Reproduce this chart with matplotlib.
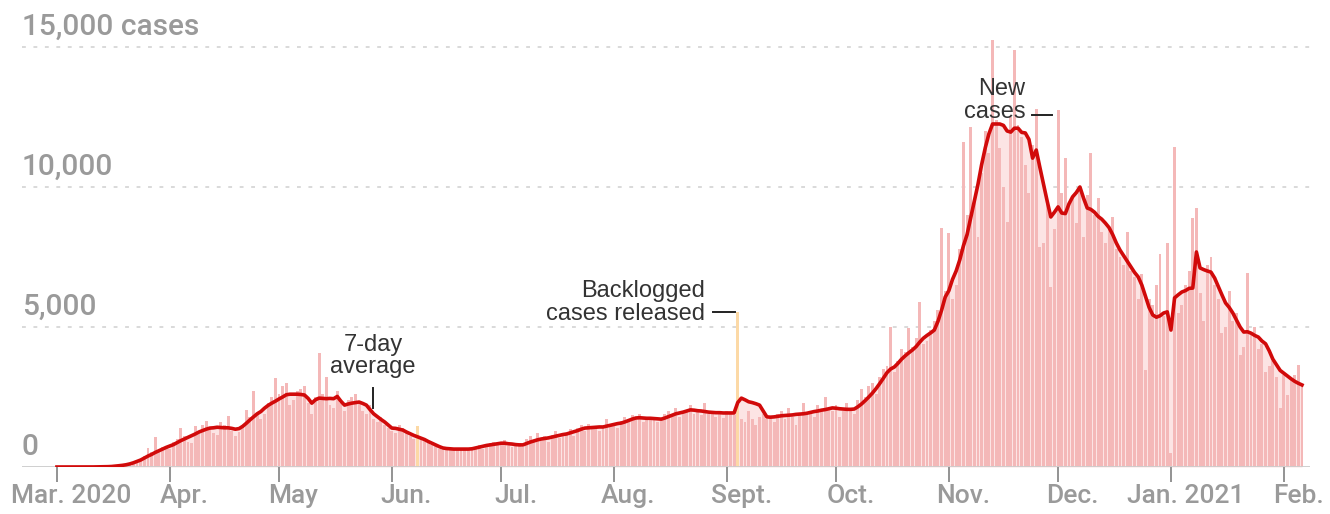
import matplotlib.pyplot as plt
import numpy as np

plt.rcParams['font.family'] = ['Liberation Sans', 'DejaVu Sans']

start = np.datetime64('2020-03-01')
days = np.arange(start, np.datetime64('2021-02-07'), dtype='datetime64[D]')

# daily new cases, read month by month
cases = (
    [0, 0, 0, 0, 0, 0, 0, 0, 0, 0, 5, 3, 10, 15, 20, 25, 40, 60, 70, 100,
     130, 170, 230, 260, 380, 680, 520, 1070, 560, 700, 760]
    + [640, 900, 1000, 1400, 1100, 900, 850, 1450, 1300, 1500, 1640, 1350, 1200, 1150, 1600,
       1500, 1820, 1300, 1100, 1250, 1500, 2040, 1800, 2710, 1900, 1700, 1900, 2300, 2500, 3180]
    + [2600, 2900, 3000, 2200, 2400, 2700, 2800, 2900, 2300, 1900, 2500, 4070, 2600, 3210, 2200,
       2100, 2700, 2300, 2000, 2400, 2500, 2600, 2300, 2000, 1900, 2200, 1700, 1600, 1800, 1500, 1400]
    + [1300, 1200, 1500, 1400, 1300, 1100, 1000, 1450, 1000, 950, 900, 800, 750, 650, 600,
       700, 650, 620, 600, 680, 600, 590, 700, 720, 800, 650, 780, 850, 900, 800]
    + [900, 950, 750, 700, 800, 850, 700, 1000, 1100, 950, 1200, 1000, 1100, 900, 1150,
       1300, 1050, 1200, 1150, 1350, 1100, 1400, 1500, 1300, 1550, 1400, 1350, 1300, 1450, 1700, 1500]
    + [1550, 1400, 1650, 1800, 1700, 1850, 1800, 1900, 1600, 1800, 1700, 1800, 1600, 1700, 1900,
       2000, 1850, 2100, 1800, 2000, 2050, 2200, 1900, 2000, 1850, 2300, 1900, 1950, 1800, 2000, 1750]
    + [2000, 1900, 1850, 5536, 1700, 1600, 2000, 1700, 1500, 1800, 1900, 1700, 1800, 1600, 1900,
       2000, 1700, 2100, 1800, 1500, 1900, 2300, 1900, 2000, 1800, 2200, 2000, 2500, 2100, 2000]
    + [2200, 1800, 2000, 2300, 2100, 1900, 2400, 2800, 2500, 2900, 3000, 2600, 3200, 3500, 3600,
       5000, 3400, 3800, 4200, 4100, 4960, 4300, 4600, 5900, 4400, 4500, 4900, 5200, 5600, 8530, 6300]
    + [8350, 6000, 6500, 7800, 11600, 9000, 12140, 9500, 8200, 10500, 12000, 11200, 15250, 12400, 11400,
       10000, 8750, 12500, 14900, 12200, 11800, 10800, 9800, 11500, 12800, 7860, 8000, 9500, 6430, 8500]
    + [12750, 9800, 11030, 9300, 9600, 8700, 9900, 8200, 9700, 11210, 9000, 9600, 8400, 8000, 8500,
       8930, 7800, 7500, 7200, 8400, 7000, 6800, 6000, 6900, 3460, 6000, 5800, 6500, 7600, 5400, 8000]
    + [500, 11430, 5500, 5800, 6500, 7000, 8890, 9250, 6200, 5200, 7200, 7500, 6500, 6000, 4800,
       5000, 6300, 5200, 5500, 4000, 4300, 6930, 4700, 5000, 4200, 4400, 3400, 3600, 3800, 3200, 2100]
    + [3300, 2570, 3100, 3300, 3640, 2900]
)

# 7-day average line
avg = (
    [0, 0, 0, 0, 0, 0, 0, 0, 0, 0, 2, 4, 6, 8, 12, 18, 30, 45, 60, 80,
     110, 150, 200, 250, 320, 390, 450, 520, 580, 640, 700]
    + [750, 800, 870, 940, 1000, 1060, 1120, 1180, 1250, 1300, 1350, 1390, 1400, 1420, 1410,
       1400, 1400, 1380, 1350, 1370, 1450, 1560, 1680, 1790, 1900, 1980, 2100, 2200, 2280, 2350]
    + [2430, 2500, 2580, 2600, 2600, 2600, 2590, 2570, 2450, 2280, 2400, 2460, 2450, 2440, 2450,
       2440, 2520, 2350, 2210, 2250, 2280, 2300, 2320, 2270, 2210, 2050, 1900, 1800, 1700, 1610, 1500]
    + [1390, 1380, 1350, 1320, 1250, 1190, 1130, 1080, 1030, 980, 910, 850, 790, 730, 680,
       660, 650, 640, 640, 640, 640, 640, 650, 680, 710, 740, 770, 790, 810, 830]
    + [850, 850, 830, 820, 800, 790, 790, 840, 890, 930, 970, 1000, 1020, 1040, 1070,
       1100, 1130, 1160, 1180, 1220, 1260, 1300, 1350, 1390, 1400, 1410, 1420, 1430, 1430, 1460, 1490]
    + [1520, 1550, 1570, 1610, 1660, 1710, 1750, 1760, 1750, 1740, 1740, 1730, 1720, 1710, 1750,
       1800, 1850, 1900, 1930, 1960, 2000, 2040, 2030, 2010, 2000, 1980, 1960, 1950, 1940, 1940, 1930]
    + [1930, 1930, 1930, 2300, 2460, 2400, 2330, 2300, 2260, 2210, 2000, 1790, 1780, 1790, 1810,
       1830, 1840, 1850, 1860, 1880, 1890, 1900, 1920, 1950, 1980, 2000, 2030, 2050, 2080, 2110]
    + [2100, 2080, 2070, 2060, 2060, 2070, 2150, 2250, 2370, 2500, 2640, 2800, 2980, 3170, 3370,
       3500, 3570, 3700, 3850, 3970, 4080, 4180, 4300, 4460, 4600, 4700, 4790, 4890, 5200, 5600, 6070]
    + [6300, 6700, 7000, 7400, 7900, 8300, 8900, 9500, 10100, 10800, 11400, 11900, 12250, 12250, 12250,
       12200, 12000, 11960, 12100, 12100, 11950, 11930, 11700, 11030, 11320, 10700, 10100, 9500, 8930, 9100]
    + [9290, 9070, 9050, 9400, 9650, 9800, 10000, 9600, 9250, 9200, 9100, 8950, 8850, 8710, 8550,
       8300, 8000, 7750, 7550, 7350, 7150, 6950, 6790, 6500, 6100, 5700, 5430, 5350, 5400, 5500, 5540]
    + [4890, 6040, 6150, 6250, 6300, 6380, 6390, 7680, 7110, 7050, 7000, 6960, 6750, 6450, 6150,
       5860, 5700, 5500, 5250, 5000, 4820, 4830, 4780, 4700, 4640, 4500, 4400, 4150, 3850, 3650, 3450]
    + [3350, 3250, 3150, 3060, 2990, 2930]
)

backlog_days = ['2020-06-08', '2020-09-04']

months = ['2020-03-01', '2020-04-01', '2020-05-01', '2020-06-01', '2020-07-01', '2020-08-01',
          '2020-09-01', '2020-10-01', '2020-11-01', '2020-12-01', '2021-01-01', '2021-02-01']
month_labels = ['Mar. 2020', 'Apr.', 'May', 'Jun.', 'Jul.', 'Aug.', 'Sept.', 'Oct.',
                'Nov.', 'Dec.', 'Jan. 2021', 'Feb.']

yticks = [0, 5000, 10000, 15000]
ylabels = ['0', '5,000', '10,000', '15,000 cases']

x = (days - start).astype(int)
cases = np.array(cases)
avg = np.array(avg)
bl = (np.array(backlog_days, dtype='datetime64[D]') - start).astype(int)
mx = (np.array(months, dtype='datetime64[D]') - start).astype(int)

colors = np.array(['#f4b8b8'] * len(x), dtype=object)
colors[bl] = '#fcd9a6'

fig = plt.figure(figsize=(13.3, 5.14), dpi=100)
ax = fig.add_axes([22 / 1330, 47 / 514, 1288 / 1330, 448 / 514])

ax.fill_between(x, avg, color='#fce4e4', lw=0, zorder=1)
ax.bar(x, cases, width=0.8, color=list(colors), lw=0, zorder=2)
ax.plot(x, avg, color='#d10a0a', lw=2.6, solid_joinstyle='round', zorder=4)

for v in yticks[1:]:
    ax.axhline(v, color='#cfcfcf', lw=1.1, ls=(0, (2.5, 5)), zorder=0)
ax.axhline(0, color='#cccccc', lw=1.3, zorder=3)
axis_font = dict(family=['Roboto', 'DejaVu Sans'], weight='medium', color='#9a9a9a')
for v, lab in zip(yticks, ylabels):
    ax.text(0, v + 430, lab, transform=ax.get_yaxis_transform(), ha='left', va='baseline',
            fontsize=21.5, **axis_font)

ax.set_xlim(-9.6, 344.2)
ax.set_ylim(0, 16000)
ax.set_xticks(mx)
ax.set_xticklabels([])
ax.tick_params(axis='x', length=11, width=1.3, color='#8a8a8a', direction='out', pad=0)
ax.set_xticks(mx + 4, minor=True)
ax.set_xticklabels(month_labels, minor=True, fontsize=19, **axis_font)
ax.tick_params(axis='x', which='minor', length=0, pad=12)
ax.set_yticks([])
for s in ax.spines.values():
    s.set_visible(False)

# annotations
note = dict(fontsize=17, color='#333333', va='baseline')
ax.text(86.8, 4160, '7-day', ha='center', **note)
ax.text(86.8, 3350, 'average', ha='center', **note)
ax.plot([86.8, 86.8], [2110, 2820], color='#222222', lw=1.4, zorder=5)

ax.text(178, 6070, 'Backlogged', ha='right', **note)
ax.text(178, 5250, 'cases released', ha='right', **note)
ax.plot([180.2, 186.3], [5536, 5536], color='#222222', lw=1.4, zorder=5)

ax.text(266, 13280, 'New', ha='right', **note)
ax.text(266, 12460, 'cases', ha='right', **note)
ax.plot([267.7, 273.4], [12570, 12570], color='#222222', lw=1.4, zorder=5)

fig.savefig('out.png', dpi=100)
